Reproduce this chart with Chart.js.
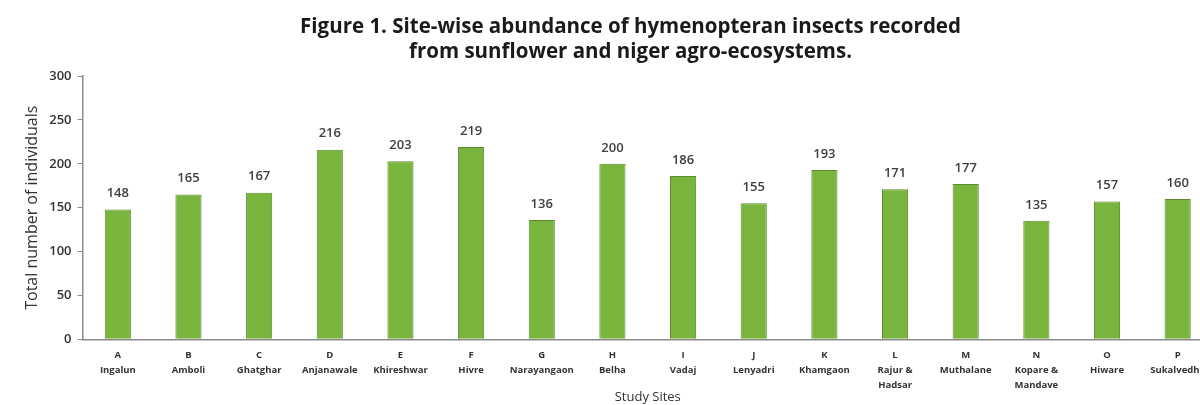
<!DOCTYPE html>
<html>
<head>
<meta charset="utf-8">
<script src="https://cdn.jsdelivr.net/npm/chart.js@4"></script>
<style>
  html, body { margin: 0; padding: 0; background: #fff; overflow: hidden; }
  #wrap { width: 1216px; height: 405px; }
</style>
</head>
<body>
<div id="wrap"><canvas id="chart" width="1216" height="405"></canvas></div>
<script>
// --- Data ---
const siteCodes = ['A', 'B', 'C', 'D', 'E', 'F', 'G', 'H', 'I', 'J', 'K', 'L', 'M', 'N', 'O', 'P'];
const siteNames = [
    ['Ingalun'], ['Amboli'], ['Ghatghar'], ['Anjanawale'], ['Khireshwar'], ['Hivre'],
    ['Narayangaon'], ['Belha'], ['Vadaj'], ['Lenyadri'], ['Khamgaon'], ['Rajur &', 'Hadsar'],
    ['Muthalane'], ['Kopare &', 'Mandave'], ['Hiware'], ['Sukalvedhe']
];
const individuals = [148, 165, 167, 216, 203, 219, 136, 200, 186, 155, 193, 171, 177, 135, 157, 160];
const yTicks = [0, 50, 100, 150, 200, 250, 300];

const labels = siteCodes.map((c, i) => [c, ...siteNames[i]]);
const fontFamily = '"Open Sans", Lato, sans-serif';

// draws the value above each bar
const valueLabels = {
    id: 'valueLabels',
    afterDatasetsDraw(chart) {
        const ctx = chart.ctx;
        const meta = chart.getDatasetMeta(0);
        ctx.save();
        ctx.font = '600 13px ' + fontFamily;
        ctx.fillStyle = '#404040';
        ctx.textAlign = 'center';
        ctx.textBaseline = 'middle';
        meta.data.forEach((bar, i) => {
            ctx.fillText(individuals[i], bar.x, bar.y - 16);
        });
        ctx.restore();
    }
};

// the figure title sits a little right of the canvas centre
const titleShift = {
    id: 'titleShift',
    afterLayout(chart) {
        const t = chart.titleBlock;
        if (t) { t.left += 14; t.right += 14; }
    }
};

new Chart(document.getElementById('chart'), {
    type: 'bar',
    data: {
        labels: labels,
        datasets: [{
            data: individuals,
            backgroundColor: '#79b43c',
            borderColor: '#5a8c2b',
            borderWidth: 1,
            barPercentage: 0.37,
            categoryPercentage: 1
        }]
    },
    options: {
        responsive: false,
        animation: false,
        layout: { padding: { left: 20, right: 3, top: 0, bottom: 0 } },
        plugins: {
            legend: { display: false },
            tooltip: { enabled: false },
            title: {
                display: true,
                text: ['Figure 1. Site-wise abundance of hymenopteran insects recorded',
                       'from sunflower and niger agro-ecosystems.'],
                font: { family: fontFamily, size: 20.5, weight: 'bold', lineHeight: 1.22 },
                color: '#1a1a1a',
                padding: { top: 15, bottom: 11 }
            }
        },
        scales: {
            x: {
                grid: { display: false, drawTicks: false },
                border: { color: '#8a8a8a', width: 1.5 },
                ticks: {
                    autoSkip: false,
                    maxRotation: 0,
                    padding: 8,
                    color: '#333',
                    font: { family: fontFamily, size: 9.5, weight: 'bold', lineHeight: 1.58 }
                },
                title: {
                    display: true,
                    text: 'Study Sites',
                    color: '#333',
                    font: { family: fontFamily, size: 13, lineHeight: 1.2 },
                    padding: { top: -11, bottom: 0 }
                }
            },
            y: {
                min: yTicks[0],
                max: yTicks[yTicks.length - 1],
                afterBuildTicks: (axis) => { axis.ticks = yTicks.map(v => ({ value: v })); },
                grid: { display: true, drawOnChartArea: false, tickLength: 5, color: '#8a8a8a' },
                border: { color: '#8a8a8a', width: 1.5 },
                ticks: {
                    padding: 6,
                    color: '#333',
                    font: { family: fontFamily, size: 13, weight: '600' }
                },
                title: {
                    display: true,
                    text: 'Total number of individuals',
                    color: '#333',
                    font: { family: fontFamily, size: 16, lineHeight: 1.2 },
                    padding: { top: 3, bottom: 1 }
                }
            }
        }
    },
    plugins: [valueLabels, titleShift]
});
</script>
</body>
</html>
